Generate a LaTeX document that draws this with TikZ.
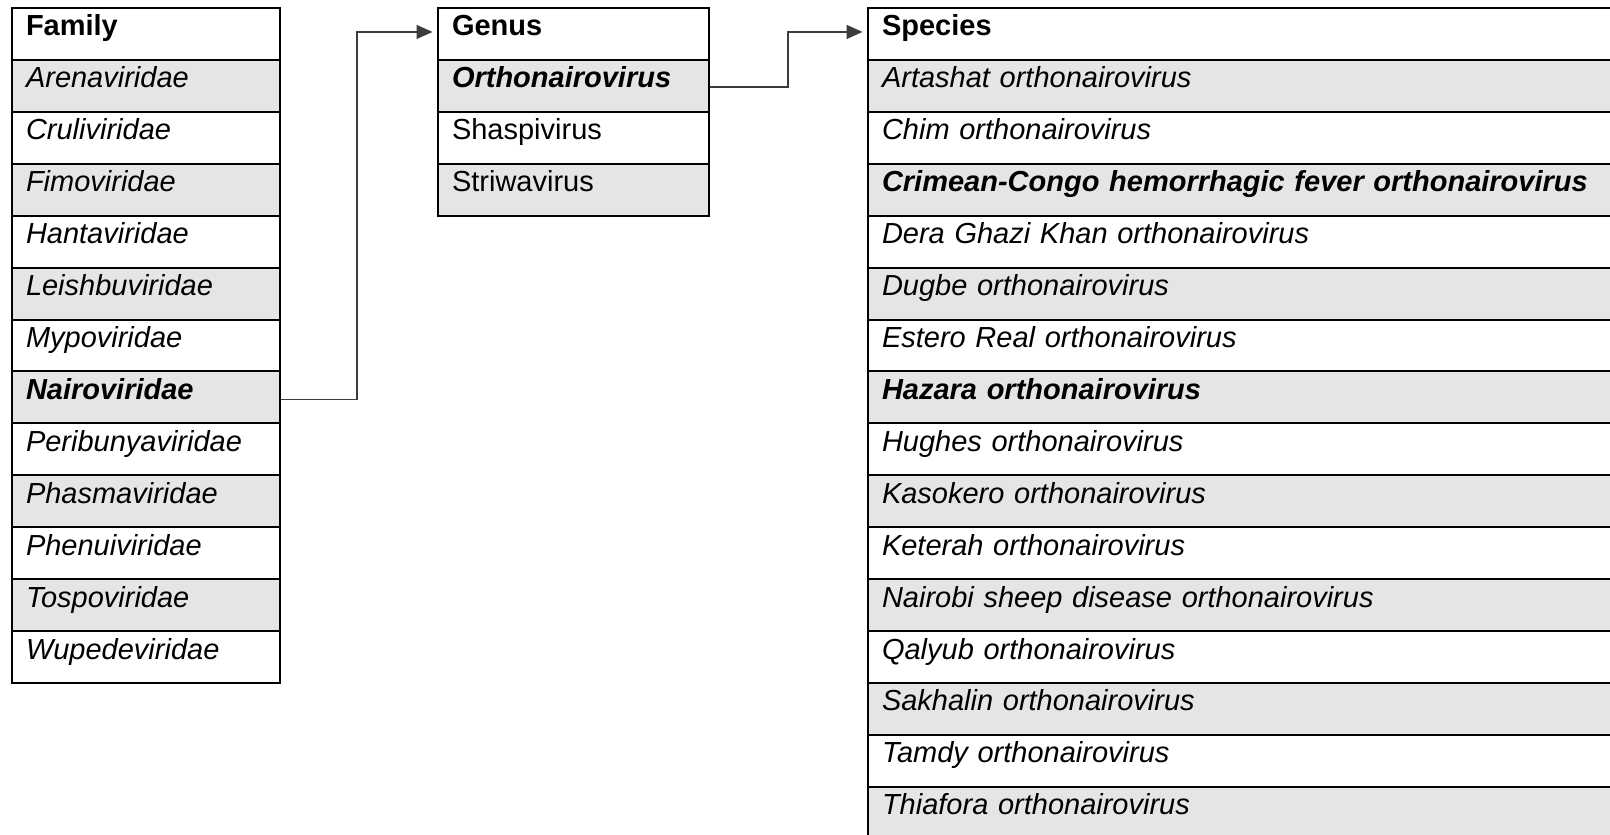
\documentclass[tikz,border=0pt]{standalone}
\usepackage{fontspec}
\setmainfont{Liberation Sans}
\usetikzlibrary{arrows.meta,calc}
\definecolor{rowgray}{RGB}{229,229,229}
\definecolor{linkgray}{RGB}{60,60,60}
\begin{document}
\begin{tikzpicture}[x=1pt,y=-1pt,
  cell/.style={draw=black,line width=2pt,anchor=north west,inner xsep=14pt,inner ysep=0pt,
     minimum height=51.92pt,text height=20pt,text depth=16pt,align=left,
     font=\fontsize{29}{34}\selectfont},
  famcell/.style={cell,text width=240pt},
  gencell/.style={cell,text width=243pt},
  spccell/.style={cell,text width=732pt},
  shaded/.style={fill=rowgray},
  plain/.style={fill=white},
  link/.style={draw=linkgray,line width=1.4pt,shorten >=4.5pt,-{Triangle[length=16pt,width=14pt]}}
]
\useasboundingbox (0,0) rectangle (1610,835);
\clip (0,0) rectangle (1610,835);
\fill[white] (0,0) rectangle (1610,835);

% Family column
\node[famcell,plain]  (fam0)  at (11,7)      {\textbf{Family}};
\node[famcell,shaded] (fam1)  at (11,58.92)  {\textit{Arenaviridae}};
\node[famcell,plain]  (fam2)  at (11,110.84) {\textit{Cruliviridae}};
\node[famcell,shaded] (fam3)  at (11,162.76) {\textit{Fimoviridae}};
\node[famcell,plain]  (fam4)  at (11,214.68) {\textit{Hantaviridae}};
\node[famcell,shaded] (fam5)  at (11,266.6)  {\textit{Leishbuviridae}};
\node[famcell,plain]  (fam6)  at (11,318.52) {\textit{Mypoviridae}};
\node[famcell,shaded] (fam7)  at (11,370.44) {\textbf{\textit{Nairoviridae}}};
\node[famcell,plain]  (fam8)  at (11,422.36) {\textit{Peribunyaviridae}};
\node[famcell,shaded] (fam9)  at (11,474.28) {\textit{Phasmaviridae}};
\node[famcell,plain]  (fam10) at (11,526.2)  {\textit{Phenuiviridae}};
\node[famcell,shaded] (fam11) at (11,578.12) {\textit{Tospoviridae}};
\node[famcell,plain]  (fam12) at (11,630.04) {\textit{Wupedeviridae}};

% Genus column
\node[gencell,plain]  (gen0) at (437,7)      {\textbf{Genus}};
\node[gencell,shaded] (gen1) at (437,58.92)  {\textbf{\textit{Orthonairovirus}}};
\node[gencell,plain]  (gen2) at (437,110.84) {Shaspivirus};
\node[gencell,shaded] (gen3) at (437,162.76) {Striwavirus};

% Species column
\node[spccell,plain]  (spc0)  at (867,7)      {\textbf{Species}};
\node[spccell,shaded] (spc1)  at (867,58.92)  {\textit{Artashat orthonairovirus}};
\node[spccell,plain]  (spc2)  at (867,110.84) {\textit{Chim orthonairovirus}};
\node[spccell,shaded] (spc3)  at (867,162.76) {\textbf{\textit{Crimean-Congo hemorrhagic fever orthonairovirus}}};
\node[spccell,plain]  (spc4)  at (867,214.68) {\textit{Dera Ghazi Khan orthonairovirus}};
\node[spccell,shaded] (spc5)  at (867,266.6)  {\textit{Dugbe orthonairovirus}};
\node[spccell,plain]  (spc6)  at (867,318.52) {\textit{Estero Real orthonairovirus}};
\node[spccell,shaded] (spc7)  at (867,370.44) {\textbf{\textit{Hazara orthonairovirus}}};
\node[spccell,plain]  (spc8)  at (867,422.36) {\textit{Hughes orthonairovirus}};
\node[spccell,shaded] (spc9)  at (867,474.28) {\textit{Kasokero orthonairovirus}};
\node[spccell,plain]  (spc10) at (867,526.2)  {\textit{Keterah orthonairovirus}};
\node[spccell,shaded] (spc11) at (867,578.12) {\textit{Nairobi sheep disease orthonairovirus}};
\node[spccell,plain]  (spc12) at (867,630.04) {\textit{Qalyub orthonairovirus}};
\node[spccell,shaded] (spc13) at (867,681.96) {\textit{Sakhalin orthonairovirus}};
\node[spccell,plain]  (spc14) at (867,733.88) {\textit{Tamdy orthonairovirus}};
\node[spccell,shaded] (spc15) at (867,785.8)  {\textit{Thiafora orthonairovirus}};

% Connectors
\draw[link] ([yshift=-2pt]fam7.east) -- ++(76,0) |- ([yshift=2pt]gen0.west);
\draw[link] ([yshift=-1pt]gen1.east) -- ++(78,0) |- ([yshift=2pt]spc0.west);
\end{tikzpicture}
\end{document}
